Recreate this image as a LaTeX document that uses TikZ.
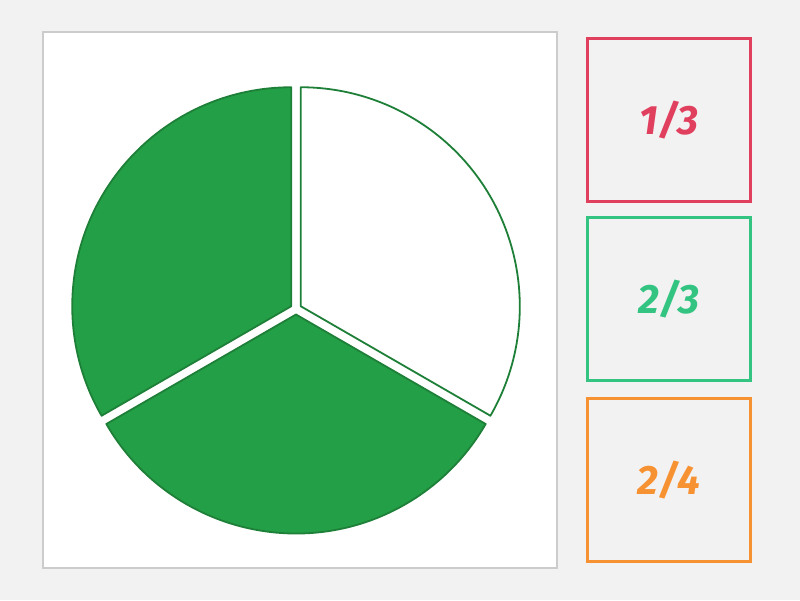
\documentclass[tikz,border=0pt]{standalone}
\usepackage{fontspec}
\usetikzlibrary{calc}
\setmainfont{Fira Sans}
\definecolor{bg}{HTML}{F3F2F3}
\definecolor{panelborder}{HTML}{CCCCCC}
\definecolor{piegreen}{HTML}{23A047}
\definecolor{pieedge}{HTML}{1E8038}
\definecolor{cred}{HTML}{E0405E}
\definecolor{cgreen}{HTML}{33C482}
\definecolor{corange}{HTML}{F79232}
\tikzset{
  sector/.style={draw=pieedge, line width=1.8pt, line join=round},
  fullsector/.style={sector, fill=piegreen},
  emptysector/.style={sector, fill=white},
  answer/.style={draw=#1, line width=3.5pt, fill=bg, minimum width=163pt, minimum height=163pt, inner sep=0pt,
     text=#1, font=\fontsize{41}{44}\selectfont\bfseries\itshape},
}
\begin{document}
\begin{tikzpicture}[x=1pt,y=1pt]
\fill[bg] (0,0) rectangle (800,600);
\useasboundingbox (0,0) rectangle (800,600);
\node[draw=panelborder, line width=2pt, fill=white, minimum width=514pt, minimum height=536pt, inner sep=0pt] (panel) at (299.5,300) {};
\coordinate (c) at (296,291);
\def\R{219}
% left sector 90..210
\draw[fullsector] ($(c)+(150:5.5)$) -- ++(90:\R) arc[start angle=90, end angle=210, radius=\R] -- cycle;
% right sector -30..90
\draw[emptysector] ($(c)+(30:5.5)$) -- ++(-30:\R) arc[start angle=-30, end angle=90, radius=\R] -- cycle;
% bottom sector 210..330
\draw[fullsector] ($(c)+(270:5.5)$) -- ++(210:\R) arc[start angle=210, end angle=330, radius=\R] -- cycle;
\node[answer=cred] (a1) at (669,480) {1/3};
\node[answer=cgreen] (a2) at (669,301) {2/3};
\node[answer=corange] (a3) at (669,120) {2/4};
\end{tikzpicture}
\end{document}
